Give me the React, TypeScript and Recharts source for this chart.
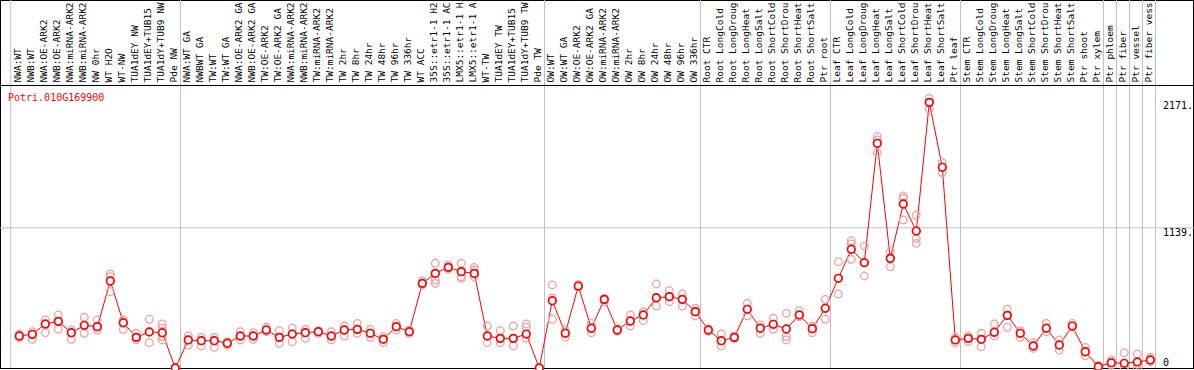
import React from "react";
import { ComposedChart, Line, Scatter, XAxis, YAxis, ReferenceLine } from "recharts";

const geneId = "Potri.010G169900";

const labels = [
  "NWA:WT", "NWB:WT", "NWA:OE-ARK2", "NWB:OE-ARK2", "NWA:miRNA-ARK2", "NWB:miRNA-ARK2",
  "NW 0hr", "WT H2O", "WT-NW", "TUA1dEY NW", "TUA1dEY+TUB15", "TUA1dY+TUB9 NW", "Pde NW",
  "NWA:WT GA", "NWBWT GA", "TW:WT", "TW:WT GA", "NWA:OE-ARK2 GA", "NWB:OE-ARK2 GA",
  "TW:OE-ARK2", "TW:OE-ARK2 GA", "NWA:miRNA-ARK2", "NWB:miRNA-ARK2", "TW:miRNA-ARK2",
  "TW:miRNA-ARK2", "TW 2hr", "TW 8hr", "TW 24hr", "TW 48hr", "TW 96hr", "TW 336hr",
  "WT ACC", "35S::etr1-1 H2", "35S::etr1-1 AC", "LMX5::etr1-1 H", "LMX5::etr1-1 A",
  "WT-TW", "TUA1dEY TW", "TUA1dEY+TUB15", "TUA1dY+TUB9 TW", "Pde TW",
  "OW:WT", "OW:WT GA", "OW:OE-ARK2", "OW:OE-ARK2 GA", "OW:miRNA-ARK2", "OW:miRNA-ARK2",
  "OW 2hr", "OW 8hr", "OW 24hr", "OW 48hr", "OW 96hr", "OW 336hr",
  "Root CTR", "Root LongCold", "Root LongDroug", "Root LongHeat", "Root LongSalt",
  "Root ShortCold", "Root ShortDrou", "Root ShortHeat", "Root ShortSalt", "Ptr root",
  "Leaf CTR", "Leaf LongCold", "Leaf LongDroug", "Leaf LongHeat", "Leaf LongSalt",
  "Leaf ShortCold", "Leaf ShortDrou", "Leaf ShortHeat", "Leaf ShortSalt", "Ptr leaf",
  "Stem CTR", "Stem LongCold", "Stem LongDroug", "Stem LongHeat", "Stem LongSalt",
  "Stem ShortCold", "Stem ShortDrou", "Stem ShortHeat", "Stem ShortSalt", "Ptr shoot",
  "Ptr xylem", "Ptr phloem", "Ptr fiber", "Ptr vessel", "Ptr fiber vess",
];

const means = [
  260, 274, 358, 379, 287, 347, 336, 707, 368, 249, 293, 287, 0,
  228, 222, 222, 201, 260, 260, 309, 249, 276, 287, 295, 260, 309, 314, 282, 233, 336, 295,
  688, 769, 818, 783, 769, 260, 241, 241, 276, 0,
  547, 282, 666, 323, 558, 309, 382, 431, 571, 580, 558, 458,
  309, 222, 249, 477, 323, 355, 317, 431, 320, 485,
  729, 965, 856, 1826, 891, 1333, 1113, 2159, 1631, 228,
  241, 233, 290, 428, 282, 179, 323, 187, 341, 132,
  11, 43, 38, 49, 65,
];

const replicates = [
  [276, 260, 244], [295, 268, 233], [390, 350, 287], [431, 376, 317], [309, 282, 233],
  [412, 341, 282], [390, 336, 309], [764, 742, 620], [390, 363, 314], [282, 249, 228],
  [396, 293, 206], [358, 323, 255, 228], [0, 0, 0],
  [260, 228, 187], [249, 225, 179], [249, 220, 168], [214, 201, 187], [295, 258, 228],
  [287, 262, 233], [331, 305, 295], [303, 250, 201], [323, 280, 214], [314, 290, 241],
  [303, 295, 282], [295, 258, 228], [341, 305, 260], [363, 310, 282], [314, 285, 249],
  [255, 235, 206], [363, 335, 309], [309, 295, 282], [710, 688, 675], [851, 715, 688],
  [837, 818, 802], [851, 742, 729], [818, 796, 742], [341, 260, 206], [303, 241, 206],
  [341, 241, 179], [358, 331, 241], [0, 0, 0],
  [675, 570, 396], [309, 282, 249], [680, 666, 655], [363, 320, 287], [566, 558, 539],
  [320, 309, 298], [431, 380, 341], [458, 431, 385], [683, 571, 504], [628, 580, 539],
  [601, 558, 504], [485, 458, 423],
  [320, 309, 298], [276, 222, 179], [260, 249, 238], [526, 477, 423], [350, 323, 282],
  [404, 355, 314], [444, 255, 228], [466, 431, 417], [341, 320, 287], [558, 485, 396],
  [864, 729, 601], [1035, 1008, 883], [992, 856, 748], [1880, 1853, 1750], [945, 891, 823],
  [1398, 1379, 1203], [1243, 1054, 1013], [2192, 2159, 2102], [1669, 1631, 1587], [249, 228, 206],
  [260, 241, 214], [282, 233, 173], [358, 290, 260], [477, 428, 331], [303, 282, 249],
  [206, 179, 160], [363, 323, 295], [228, 187, 146], [363, 341, 331], [168, 132, 98],
  [20, 11, 0], [65, 43, 24], [124, 0, 0], [114, 30, 0], [87, 65, 51],
];

// last index of each sample group (a gray separator follows it)
const groupEnds = [12, 40, 52, 62, 72, 83, 84, 85, 86, 87];

const yTicks = [0, 1139, 2171];
const yTickLabels = ["0", "1139.", "2171."];

const meanData = means.map((y, x) => ({ x, y }));
const repData = replicates.flatMap((reps, x) => reps.map((y) => ({ x, y })));

const mono = "'DejaVu Sans Mono', monospace";
const GRID = "#c0c0c0";
const Y_TOP = 2991; // value at the very top of the picture
const X_LEFT = -1.485;
const X_RIGHT = 90.4;

function TopTick({ x, payload }: any) {
  return (
    <text
      transform={`translate(${x + 1.5},82.5) rotate(-90)`}
      fontFamily={mono}
      fontSize={9.5}
      fill="#000"
      textAnchor="start"
    >
      {labels[payload.value]}
    </text>
  );
}

function RightTick({ y, payload }: any) {
  const i = yTicks.indexOf(payload.value);
  return (
    <text x={1163} y={payload.value === 0 ? y - 2.5 : y + 8.5} fontFamily={mono} fontSize={10} fill="#000">
      {yTickLabels[i]}
    </text>
  );
}

function RepDot(p: any) {
  return <circle cx={p.cx} cy={p.cy} r={3.8} fill="none" stroke="#f0a0a0" strokeWidth={1.3} />;
}

export default function App() {
  return (
    <div style={{ position: "relative", width: 1194, height: 370, background: "#fff", overflow: "hidden" }}>
      <style>{"body{margin:0}"}</style>
      <div
        style={{
          position: "absolute", left: 0, top: 0, width: 1194, height: 369,
          border: "1px solid #000", boxSizing: "border-box",
        }}
      />
      <div style={{ position: "absolute", left: 0, top: 0 }}>
        <ComposedChart width={1194} height={370} data={meanData} margin={{ top: 0, right: 0, bottom: 2, left: 0 }}>
          <XAxis
            dataKey="x"
            type="number"
            orientation="top"
            height={85}
            domain={[X_LEFT, 88.515]}
            ticks={labels.map((_, i) => i)}
            interval={0}
            axisLine={false}
            tickLine={false}
            tick={<TopTick />}
          />
          <YAxis
            dataKey="y"
            type="number"
            orientation="right"
            width={24}
            domain={[0, 2300]}
            ticks={yTicks}
            interval={0}
            axisLine={false}
            tickLine={false}
            tick={<RightTick />}
          />
          <ReferenceLine
            segment={[{ x: X_LEFT, y: 1139 }, { x: X_RIGHT, y: 1139 }]}
            stroke={GRID}
            ifOverflow="visible"
          />
          <ReferenceLine
            segment={[{ x: -0.66, y: 0 }, { x: -0.66, y: Y_TOP }]}
            stroke={GRID}
            ifOverflow="visible"
          />
          {groupEnds.map((g) => (
            <ReferenceLine
              key={g}
              segment={[{ x: g + 0.4, y: 0 }, { x: g + 0.4, y: Y_TOP }]}
              stroke={GRID}
              ifOverflow="visible"
            />
          ))}
          <Scatter data={repData} shape={<RepDot />} isAnimationActive={false} />
          <Line
            dataKey="y"
            stroke="#ff0000"
            strokeWidth={1}
            dot={{ r: 3.8, stroke: "#ff0000", strokeWidth: 1.7, fill: "#fff" }}
            activeDot={false}
            isAnimationActive={false}
          />
        </ComposedChart>
      </div>
      <div style={{ position: "absolute", left: 0, top: 85, width: 1194, height: 1, background: "#000" }} />
      <div style={{ position: "absolute", left: 8, top: 92.5, color: "#ff0000", font: `10px/10px ${mono}`, whiteSpace: "nowrap" }}>
        {geneId}
      </div>
    </div>
  );
}
